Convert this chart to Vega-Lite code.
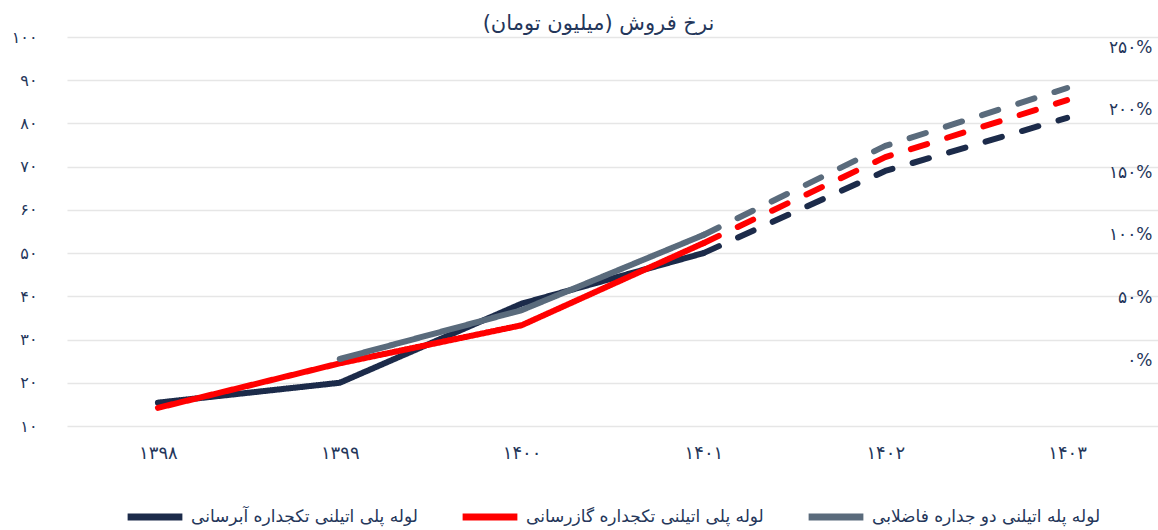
{
  "$schema": "https://vega.github.io/schema/vega-lite/v6.json",
  "width": 1091,
  "height": 389,
  "autosize": {"type": "none"},
  "padding": {"left": 67, "top": 37, "right": 0, "bottom": 104},
  "background": "white",
  "config": {
    "font": "DejaVu Sans",
    "view": {"stroke": null},
    "legend": {"layout": {"bottom": {"anchor": "middle"}}}
  },
  "title": {
    "text": "نرخ فروش (میلیون تومان)",
    "fontSize": 21,
    "fontWeight": "normal",
    "color": "#24365a",
    "anchor": "middle",
    "offset": -5,
    "dx": -14
  },
  "data": {
    "values": [
      {"year": 1398, "series": "لوله پلی اتیلنی تکجداره آبرسانی", "kind": "actual", "value": 15.4},
      {"year": 1399, "series": "لوله پلی اتیلنی تکجداره آبرسانی", "kind": "actual", "value": 20.0},
      {"year": 1400, "series": "لوله پلی اتیلنی تکجداره آبرسانی", "kind": "actual", "value": 38.3},
      {"year": 1401, "series": "لوله پلی اتیلنی تکجداره آبرسانی", "kind": "actual", "value": 50.0},
      {"year": 1401, "series": "لوله پلی اتیلنی تکجداره آبرسانی", "kind": "forecast", "value": 50.0},
      {"year": 1402, "series": "لوله پلی اتیلنی تکجداره آبرسانی", "kind": "forecast", "value": 69.0},
      {"year": 1403, "series": "لوله پلی اتیلنی تکجداره آبرسانی", "kind": "forecast", "value": 81.3},
      {"year": 1398, "series": "لوله پلی اتیلنی تکجداره گازرسانی", "kind": "actual", "value": 14.2},
      {"year": 1399, "series": "لوله پلی اتیلنی تکجداره گازرسانی", "kind": "actual", "value": 24.5},
      {"year": 1400, "series": "لوله پلی اتیلنی تکجداره گازرسانی", "kind": "actual", "value": 33.3},
      {"year": 1401, "series": "لوله پلی اتیلنی تکجداره گازرسانی", "kind": "actual", "value": 52.3},
      {"year": 1401, "series": "لوله پلی اتیلنی تکجداره گازرسانی", "kind": "forecast", "value": 52.3},
      {"year": 1402, "series": "لوله پلی اتیلنی تکجداره گازرسانی", "kind": "forecast", "value": 72.2},
      {"year": 1403, "series": "لوله پلی اتیلنی تکجداره گازرسانی", "kind": "forecast", "value": 85.4},
      {"year": 1399, "series": "لوله پله اتیلنی دو جداره فاضلابی", "kind": "actual", "value": 25.5},
      {"year": 1400, "series": "لوله پله اتیلنی دو جداره فاضلابی", "kind": "actual", "value": 36.8},
      {"year": 1401, "series": "لوله پله اتیلنی دو جداره فاضلابی", "kind": "actual", "value": 54.2},
      {"year": 1401, "series": "لوله پله اتیلنی دو جداره فاضلابی", "kind": "forecast", "value": 54.2},
      {"year": 1402, "series": "لوله پله اتیلنی دو جداره فاضلابی", "kind": "forecast", "value": 74.8},
      {"year": 1403, "series": "لوله پله اتیلنی دو جداره فاضلابی", "kind": "forecast", "value": 88.2}
    ]
  },
  "layer": [
    {
      "mark": {"type": "line", "strokeWidth": 6, "strokeCap": "round", "strokeJoin": "round"},
      "encoding": {
        "x": {
          "field": "year",
          "type": "ordinal",
          "scale": {"type": "point", "padding": 0.5},
          "axis": {
            "title": null,
            "domain": false,
            "ticks": false,
            "grid": false,
            "labelAngle": 0,
            "labelPadding": 18,
            "labelFontSize": 18,
            "labelColor": "#24365a",
            "labelExpr": "replace(replace(replace(replace(replace(replace(replace(replace(replace(replace(datum.label,regexp('0','g'),'۰'),regexp('1','g'),'۱'),regexp('2','g'),'۲'),regexp('3','g'),'۳'),regexp('4','g'),'۴'),regexp('5','g'),'۵'),regexp('6','g'),'۶'),regexp('7','g'),'۷'),regexp('8','g'),'۸'),regexp('9','g'),'۹')"
          }
        },
        "y": {
          "field": "value",
          "type": "quantitative",
          "scale": {"domain": [10, 100], "nice": false, "zero": false},
          "axis": {
            "title": null,
            "values": [10, 20, 30, 40, 50, 60, 70, 80, 90, 100],
            "domain": false,
            "ticks": false,
            "grid": true,
            "gridColor": "#e6e6e6",
            "gridWidth": 1.5,
            "labelPadding": 30,
            "labelFontSize": 16,
            "labelColor": "#24365a",
            "labelExpr": "replace(replace(replace(replace(replace(replace(replace(replace(replace(replace(datum.label,regexp('0','g'),'۰'),regexp('1','g'),'۱'),regexp('2','g'),'۲'),regexp('3','g'),'۳'),regexp('4','g'),'۴'),regexp('5','g'),'۵'),regexp('6','g'),'۶'),regexp('7','g'),'۷'),regexp('8','g'),'۸'),regexp('9','g'),'۹')"
          }
        },
        "color": {
          "field": "series",
          "type": "nominal",
          "sort": null,
          "scale": {
            "domain": ["لوله پلی اتیلنی تکجداره آبرسانی", "لوله پلی اتیلنی تکجداره گازرسانی", "لوله پله اتیلنی دو جداره فاضلابی"],
            "range": ["#1c2b4a", "#ff0000", "#5a6b7c"]
          },
          "legend": {
            "title": null,
            "orient": "bottom",
            "direction": "horizontal",
            "symbolType": "stroke",
            "symbolSize": 3000,
            "symbolStrokeWidth": 7,
            "labelFontSize": 17,
            "labelColor": "#24365a",
            "labelLimit": 400,
            "labelOffset": 5,
            "columnPadding": 30,
            "offset": 24
          }
        },
        "strokeDash": {
          "field": "kind",
          "type": "nominal",
          "scale": {"domain": ["actual", "forecast"], "range": [[1, 0], [17, 21]]},
          "legend": null
        }
      }
    },
    {
      "mark": {"type": "rule", "opacity": 0, "clip": true},
      "encoding": {
        "y": {
          "field": "value",
          "type": "quantitative",
          "scale": {"domain": [-0.527, 2.58], "nice": false, "zero": false},
          "axis": {
            "orient": "right",
            "title": null,
            "values": [0, 0.5, 1, 1.5, 2, 2.5],
            "format": ".0%",
            "domain": false,
            "ticks": false,
            "grid": false,
            "labelAlign": "right",
            "labelPadding": -6,
            "labelFontSize": 17,
            "labelColor": "#24365a",
            "labelExpr": "replace(replace(replace(replace(replace(replace(replace(replace(replace(replace(datum.label,regexp('0','g'),'۰'),regexp('1','g'),'۱'),regexp('2','g'),'۲'),regexp('3','g'),'۳'),regexp('4','g'),'۴'),regexp('5','g'),'۵'),regexp('6','g'),'۶'),regexp('7','g'),'۷'),regexp('8','g'),'۸'),regexp('9','g'),'۹')"
          }
        }
      }
    }
  ],
  "resolve": {"scale": {"y": "independent"}}
}
